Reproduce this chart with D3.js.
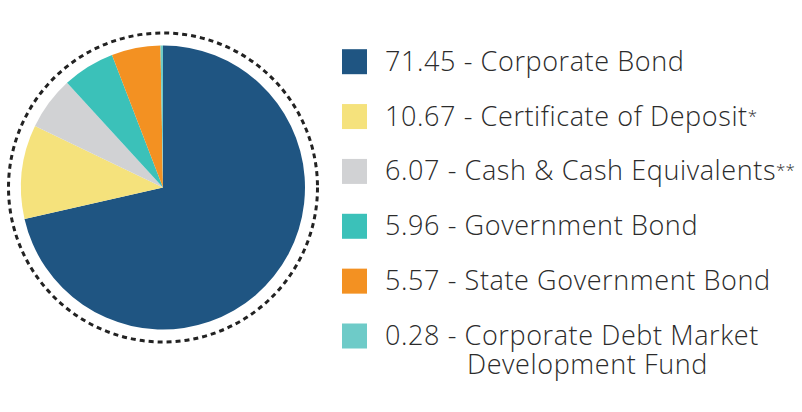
<!DOCTYPE html>
<html>
<head>
<meta charset="utf-8">
<script src="https://cdn.jsdelivr.net/npm/d3@7"></script>
<style>
  body { margin: 0; background: #fff; }
  text { font-family: "Open Sans", sans-serif; font-weight: 300; fill: #2b2b2b; }
</style>
</head>
<body>
<div id="chart"></div>
<script>
const width = 802;
const height = 412;

const categories = ['Corporate Bond', 'Certificate of Deposit*', 'Cash & Cash Equivalents**',
  'Government Bond', 'State Government Bond', 'Corporate Debt Market|Development Fund'];
const values = [71.45, 10.67, 6.07, 5.96, 5.57, 0.28];
const colors = ['#1f5582', '#f5e27c', '#d1d2d4', '#3bc1b9', '#f39122', '#6ecbc8'];

const svg = d3.select('#chart').append('svg')
  .attr('width', width)
  .attr('height', height);

const data = values.map((v, i) => ({ value: v, name: categories[i], color: colors[i] }));

const pie = d3.pie().sort(null).value(d => d.value);
const arc = d3.arc().innerRadius(0).outerRadius(142);

const g = svg.append('g').attr('transform', 'translate(163, 187.5)');

// dotted ring round the pie
g.append('circle')
  .attr('r', 154.5)
  .style('fill', 'none')
  .style('stroke', '#222')
  .style('stroke-width', 3)
  .style('stroke-dasharray', '5 4');

g.selectAll('path')
  .data(pie(data))
  .join('path')
  .attr('d', arc)
  .style('fill', d => d.data.color);

// legend
const y = d3.scalePoint().domain(d3.range(data.length)).range([61.7, 336]);

const legend = svg.append('g');
const rows = legend.selectAll('g')
  .data(data)
  .join('g')
  .attr('transform', (d, i) => `translate(342, ${y(i)})`);

rows.append('rect')
  .attr('y', -12.5)
  .attr('width', 25)
  .attr('height', 25)
  .style('fill', d => d.color);

rows.each(function(d) {
  const parts = d.name.split('|');
  const m = parts[0].match(/^(.*?)(\*+)$/);
  const main = m ? m[1] : parts[0];
  const t = d3.select(this).append('text')
    .attr('x', 43)
    .attr('y', 9)
    .style('font-size', '27px')
    .style('letter-spacing', '0.6px');
  t.append('tspan').text(d.value.toFixed(2) + ' - ' + main);
  if (m) {
    // small raised footnote marks
    t.append('tspan')
      .attr('dy', -4)
      .style('font-size', '17px')
      .style('letter-spacing', '0px')
      .text(m[2]);
  }
  if (parts[1]) {
    d3.select(this).append('text')
      .attr('x', 125)
      .attr('y', 37.5)
      .style('font-size', '27px')
      .style('letter-spacing', '0.6px')
      .text(parts[1]);
  }
});
</script>
</body>
</html>
